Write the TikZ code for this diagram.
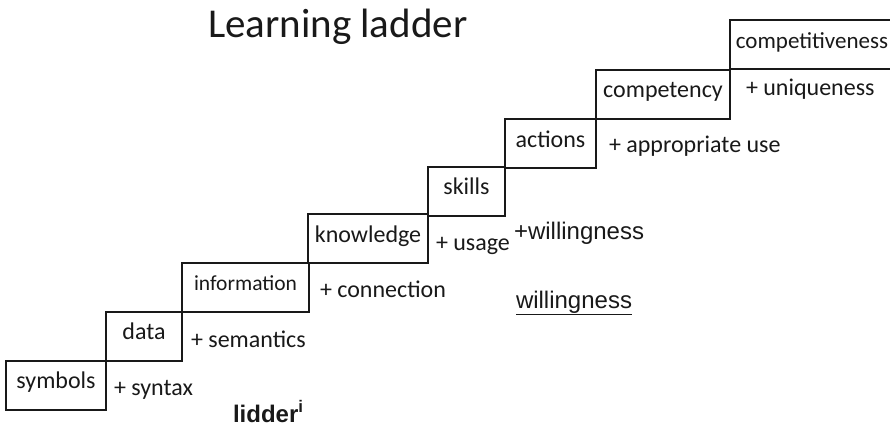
\documentclass[tikz,border=0pt]{standalone}
\usepackage{fontspec}
\setmainfont{Carlito}
\newfontfamily\arialfont{Liberation Sans}

\begin{document}
\begin{tikzpicture} [x=1pt,y=-1pt,line width=2pt,font=\fontsize{24}{28}\selectfont,text=black!90]
  \tikzstyle{stepbox}=[draw=black!90,rectangle,inner sep=0pt,minimum height=49pt,text height=1.75ex,text depth=.3ex]
  \tikzstyle{gain}=[anchor=base west,inner sep=0pt]
  \tikzstyle{annot}=[anchor=base west,inner sep=0pt,font=\arialfont\fontsize{24}{28}\selectfont]

  \useasboundingbox (0,0) rectangle (890,427);

  \node[anchor=base west,inner sep=0pt] (title) at (207,38) {\fontsize{41}{48}\selectfont Learning ladder};

  % the steps
  \foreach \name / \x / \y / \w / \txt in {sym/56/385.5/100/symbols, dat/144/336.5/76/data,
      inf/245.5/287.5/127/{\fontsize{21.5}{26}\selectfont information}, kno/368/239/120/knowledge,
      ski/466.5/191.5/77/skills, act/550.5/144/91/actions, cpy/663/94.5/134/competency,
      cpt/812/45/164/{\fontsize{23}{27}\selectfont competitiveness}}
    \node[stepbox, minimum width=\w pt] (\name) at (\x,\y) {\txt};

  % what each step adds
  \node[gain] (g-sym) at (113,395) {+ syntax};
  \node[gain] (g-dat) at (190,347) {+ semantics};
  \node[gain] (g-inf) at (319,297) {+ connection};
  \node[gain] (g-kno) at (435,251) {+ usage};
  \node[annot] (will) at (513,240) {+willingness};
  \node[gain] (g-act) at (608,153) {+ appropriate use};
  \node[gain] (g-cpy) at (745,96) {+ uniqueness};

  \node[annot] (wu) at (515,308) {\underline{willingness}};
  \node[annot] (lid) at (232,422) {\bfseries lidder\textsuperscript{i}};

\end{tikzpicture}
\end{document}
